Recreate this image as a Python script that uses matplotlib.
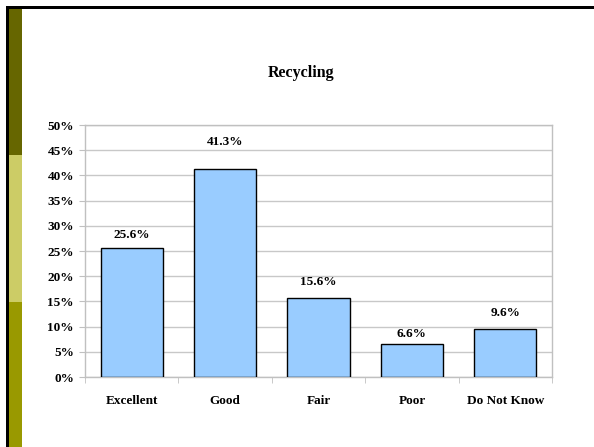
import matplotlib
matplotlib.use("Agg")
import matplotlib.pyplot as plt
from matplotlib.patches import Rectangle
from matplotlib.ticker import MultipleLocator, FuncFormatter
import numpy as np

categories = ["Excellent", "Good", "Fair", "Poor", "Do Not Know"]
values = [25.6, 41.3, 15.6, 6.6, 9.6]
title = "Recycling"

# label placement above bar tops (pixels), as placed in the original chart
label_offsets_px = [13, 27, 16, 10, 16]

W, H = 594, 447
fig = plt.figure(figsize=(W / 100, H / 100), dpi=100)
fig.patch.set_facecolor("white")

font = ["Liberation Serif", "DejaVu Serif"]

# slide decoration: black border top/left and coloured strip
def px_rect(x0, y0, x1, y1, color):
    fig.patches.append(Rectangle((x0 / W, 1 - y1 / H), (x1 - x0) / W, (y1 - y0) / H,
                                 transform=fig.transFigure, color=color, lw=0, zorder=0))

px_rect(6, 6, W, 9, "black")
px_rect(6, 6, 9, H, "black")
px_rect(9, 9, 22, 155, "#666600")
px_rect(9, 155, 22, 302, "#CCCC66")
px_rect(9, 302, 22, H, "#999900")

# axes
left, right, top, bottom = 85, 552, 125, 377
ax = fig.add_axes([left / W, 1 - bottom / H, (right - left) / W, (bottom - top) / H])
x = np.arange(len(categories))
ax.bar(x, values, width=0.667, color="#99CCFF", edgecolor="black", linewidth=1.0, zorder=3)
ax.set_xlim(-0.5, len(categories) - 0.5)
ax.set_ylim(0, 50)
ax.yaxis.set_major_locator(MultipleLocator(5))
ax.yaxis.set_major_formatter(FuncFormatter(lambda v, p: f"{int(v)}%"))
ax.grid(axis="y", color="#C8C8C8", linewidth=1.0, zorder=0)
for s in ax.spines.values():
    s.set_color("#C0C0C0")
    s.set_linewidth(1.0)

fs = 9.5
ax.set_xticks(x)
ax.set_xticklabels(categories, fontfamily=font, fontweight="bold", fontsize=fs)
ax.tick_params(axis="x", length=0, pad=13)
ax.set_xticks(np.arange(len(categories) + 1) - 0.5, minor=True)
ax.tick_params(axis="x", which="minor", length=4, color="#C0C0C0")
ax.tick_params(axis="y", length=4, color="#C0C0C0", pad=4)
for lab in ax.get_yticklabels():
    lab.set_fontfamily(font)
    lab.set_fontweight("bold")
    lab.set_fontsize(fs)

for xi, v, off in zip(x, values, label_offsets_px):
    ax.annotate(f"{v:.1f}%", (xi, v), xytext=(0, off * 0.72), textcoords="offset points",
                ha="center", va="center", fontfamily=font, fontweight="bold", fontsize=fs)

fig.text(301 / W, 1 - 73 / H, title, ha="center", va="center",
         fontfamily=font, fontweight="bold", fontsize=11.5)

fig.savefig("out.png", dpi=100)
